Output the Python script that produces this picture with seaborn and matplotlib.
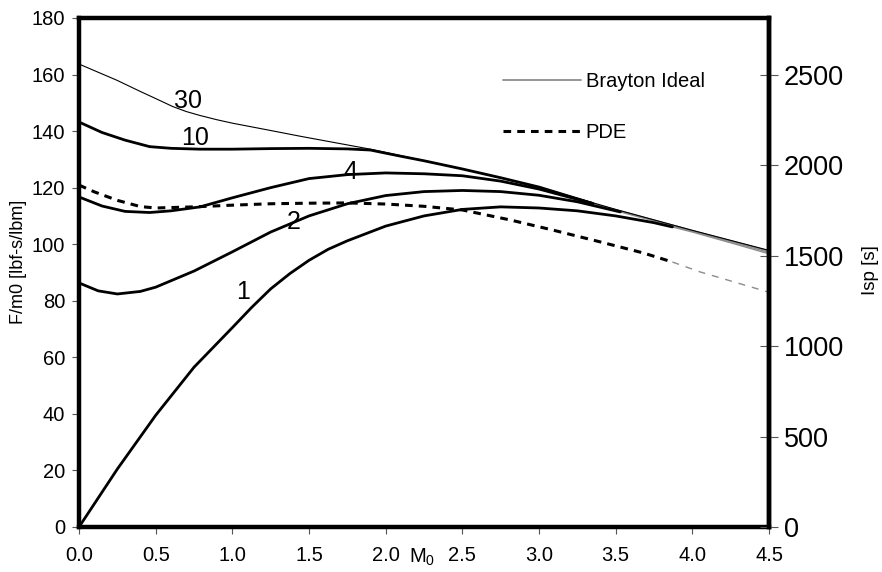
"""
Empuxo específico vs. Mach de voo: ciclo Brayton ideal (varias razões de compressão) e PDE
"""
import numpy as np
import pandas as pd
import matplotlib
matplotlib.use("Agg")
import matplotlib.pyplot as plt
from matplotlib.lines import Line2D
import seaborn as sns

# curvas Brayton ideal, por razão de compressão (M0, F/m0)
pi_1_x = [0, 0.25, 0.5, 0.75, 1.0, 1.125, 1.25, 1.375, 1.5, 1.625, 1.75, 2.0, 2.25, 2.5, 2.75, 3.0, 3.25, 3.5, 3.75, 3.87, 4.0, 4.25, 4.5]
pi_1_y = [0, 20.5, 39.5, 56.5, 70.5, 77.6, 84.2, 89.6, 94.3, 98.2, 101.2, 106.4, 110, 112.3, 113.2, 112.8, 111.8, 110, 107.6, 106.1, 104.3, 100.5, 96.6]

pi_2_x = [0, 0.125, 0.25, 0.4, 0.5, 0.75, 1.0, 1.25, 1.5, 1.75, 2.0, 2.25, 2.5, 2.75, 3.0, 3.25, 3.53, 4.0, 4.5]
pi_2_y = [86.3, 83.5, 82.4, 83.3, 84.8, 90.5, 97.3, 104.3, 110, 114.3, 117.2, 118.6, 119, 118.6, 117.3, 115, 111.4, 104.6, 97.1]

pi_4_x = [0, 0.15, 0.3, 0.46, 0.6, 0.79, 1.0, 1.25, 1.5, 1.75, 2.0, 2.25, 2.5, 2.75, 3.0, 3.35, 4.0, 4.5]
pi_4_y = [116.7, 113.5, 111.6, 111.2, 111.8, 113.2, 116.4, 120, 123.2, 124.6, 125.2, 124.9, 124.2, 122.3, 119.5, 114.4, 104.8, 97.6]

pi_10_x = [0, 0.15, 0.3, 0.46, 0.6, 0.79, 1.0, 1.25, 1.5, 1.75, 1.9, 2.09, 2.25, 2.5, 2.75, 3.0, 3.35, 4.0, 4.5]
pi_10_y = [143.2, 139.5, 136.8, 134.5, 133.9, 133.6, 133.6, 133.8, 133.9, 133.7, 133.3, 131.2, 129.5, 126.6, 123.5, 120.2, 114.4, 104.8, 97.6]

pi_30_x = [0, 0.25, 0.4, 0.5, 0.61, 0.7, 0.79, 0.9, 1.0, 1.25, 1.44, 1.7, 1.9, 2.09, 2.5, 3.0, 3.5, 4.0, 4.5]
pi_30_y = [163.7, 157.9, 154.0, 151.5, 148.7, 146.9, 145.5, 144.0, 142.8, 140.2, 138.2, 135.6, 133.6, 131.4, 126.6, 120.2, 112.3, 104.9, 97.8]

# PDE
pde_x = [0, 0.1, 0.25, 0.4, 0.5, 0.75, 1.0, 1.25, 1.5, 1.75, 2.0, 2.25, 2.5, 2.81, 3.09, 3.4, 3.68, 3.87, 4.05, 4.5]
pde_y = [120.9, 118.5, 115.5, 113.3, 112.8, 113.2, 113.8, 114.3, 114.5, 114.6, 114.2, 113.4, 112.1, 108.6, 105, 100.8, 96.9, 93.7, 90.2, 83]

# fim do trecho "valido" (linha grossa) de cada curva
pi_names = ["1", "2", "4", "10"]
pi_curves = [(pi_1_x, pi_1_y), (pi_2_x, pi_2_y), (pi_4_x, pi_4_y), (pi_10_x, pi_10_y)]
pi_valid_end = [3.87, 3.53, 3.35, 3.35]
pde_valid_end = 3.87

# rotulos das curvas (posicao no grafico)
label_text = ["30", "10", "4", "2", "1"]
label_x = [0.71, 0.757, 1.77, 1.40, 1.07]
label_y = [150.6, 137.7, 125.4, 108.0, 83.1]

x_ticks = [0.0, 0.5, 1.0, 1.5, 2.0, 2.5, 3.0, 3.5, 4.0, 4.5]
y_ticks = [0, 20, 40, 60, 80, 100, 120, 140, 160, 180]
isp_ticks = [0, 500, 1000, 1500, 2000, 2500]
isp_top = 2815  # Isp correspondente a F/m0 = 180

sns.set_style("white")
plt.rcParams['font.family'] = ['Liberation Sans', 'DejaVu Sans']
plt.rcParams['mathtext.default'] = 'regular'
plt.rcParams.update({'text.color': 'black', 'axes.labelcolor': 'black',
                     'xtick.labelcolor': 'black', 'ytick.labelcolor': 'black'})

GRAY = "#8c8c8c"
DASH = (0, (2.5, 2))

fig = plt.figure(figsize=(8.82, 5.72), dpi=100)
ax = fig.add_axes([0.0896, 0.0787, 0.7823, 0.8899])


def split(xs, ys, x_end):
    df = pd.DataFrame({"M0": xs, "F": ys})
    return df[df.M0 <= x_end + 1e-9], df[df.M0 >= x_end - 1e-9]


# continuacoes finas (cinza) primeiro, depois as linhas grossas
for (xs, ys), x_end in zip(pi_curves, pi_valid_end):
    thick, thin = split(xs, ys, x_end)
    sns.lineplot(data=thin, x="M0", y="F", ax=ax, color=GRAY, linewidth=1.0, estimator=None)

thick, thin = split(pde_x, pde_y, pde_valid_end)
sns.lineplot(data=thin, x="M0", y="F", ax=ax, color=GRAY, linewidth=1.0, linestyle=(0, (5, 5)), estimator=None)

sns.lineplot(x=pi_30_x, y=pi_30_y, ax=ax, color="black", linewidth=0.8, estimator=None)

for (xs, ys), x_end in zip(pi_curves, pi_valid_end):
    thick, thin = split(xs, ys, x_end)
    sns.lineplot(data=thick, x="M0", y="F", ax=ax, color="black", linewidth=2.0, estimator=None)

thick, thin = split(pde_x, pde_y, pde_valid_end)
sns.lineplot(data=thick, x="M0", y="F", ax=ax, color="black", linewidth=2.2, linestyle=DASH, estimator=None)

for t, lx, ly in zip(label_text, label_x, label_y):
    ax.text(lx, ly, t, fontsize=18, ha="center", va="center", color="black")

ax.set_xlim(0, 4.5)
ax.set_ylim(0, 180)
ax.set_xticks(x_ticks)
ax.set_xticklabels([f"{v:.1f}" for v in x_ticks])
ax.set_yticks(y_ticks)
ax.tick_params(axis="both", labelsize=14.5, direction="out", length=5, width=0.8,
               color="#555555", labelcolor="black")
ax.tick_params(axis="x", pad=9, bottom=True)
ax.tick_params(axis="y", pad=5, left=True)
ax.set_xlabel("")
ax.set_ylabel("F/m0 [lbf-s/lbm]", fontsize=13, color="black")
ax.yaxis.set_label_coords(-0.0754, 0.52)
for sp in ax.spines.values():
    sp.set_linewidth(3.2)
    sp.set_color("black")

ax.text(2.237, -0.0707, "M$_0$", transform=ax.get_xaxis_transform(), fontsize=14.5,
        ha="center", va="baseline", color="black")

# eixo direito: Isp
ax2 = ax.twinx()
ax2.set_ylim(0, isp_top)
ax2.set_yticks(isp_ticks)
ax2.tick_params(axis="y", labelsize=19.5, direction="inout", length=13, width=0.8, pad=4,
                color="#555555", labelcolor="black")
ax2.set_ylabel("Isp [s]", fontsize=13.5, color="black")
ax2.yaxis.set_label_coords(1.135, 0.505)
for name, sp in ax2.spines.items():
    sp.set_visible(name == "right")
ax2.spines["right"].set_linewidth(3.2)
ax2.spines["right"].set_color("black")

handles = [Line2D([], [], color=GRAY, linewidth=1.3),
           Line2D([], [], color="black", linewidth=2.2, linestyle=DASH)]
leg = ax.legend(handles, ["Brayton Ideal", "PDE"], loc="upper left", bbox_to_anchor=(0.6145, 0.893),
                frameon=False, fontsize=14.5, handlelength=3.85, handletextpad=0.25,
                labelspacing=1.55, borderpad=0, borderaxespad=0)
for txt in leg.get_texts():
    txt.set_color("black")

fig.savefig("out.png", dpi=100)
